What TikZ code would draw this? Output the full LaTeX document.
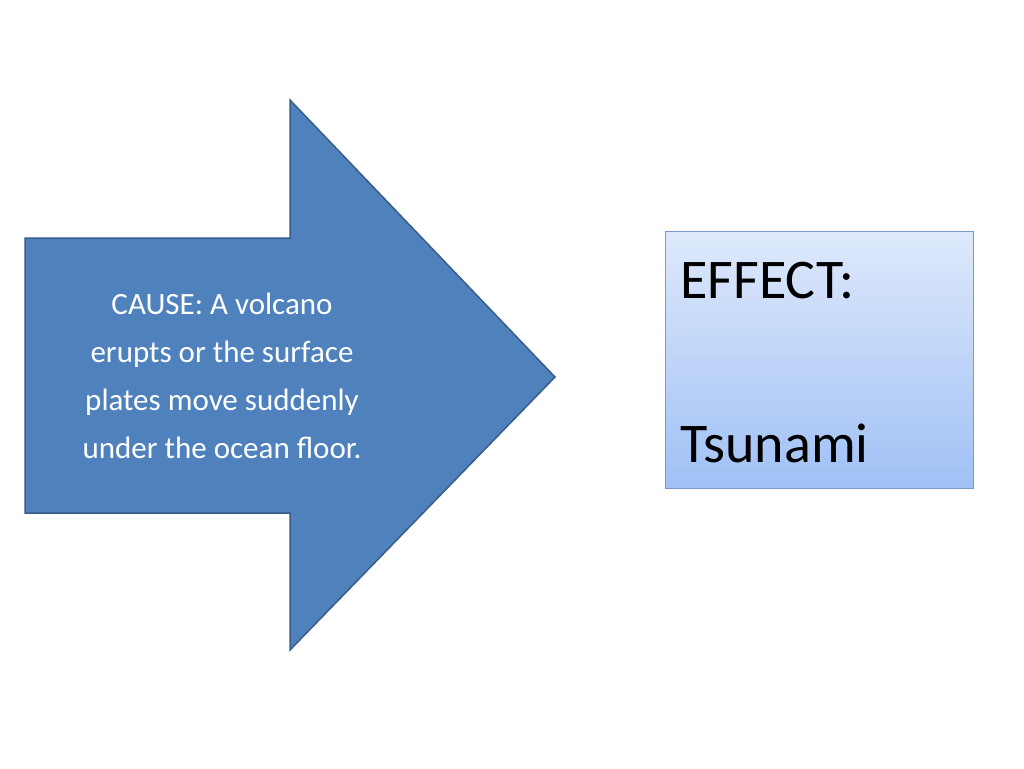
\documentclass[tikz,border=0pt]{standalone}
\usepackage{fontspec}
\setmainfont{Carlito}
\begin{document}
\begin{tikzpicture}[x=1pt,y=-1pt,
  arrowshape/.style={fill={rgb,255:red,79;green,129;blue,189},draw={rgb,255:red,56;green,93;blue,138},line width=1.5pt,line join=miter},
  effbox/.style={draw={rgb,255:red,120;green,155;blue,205},line width=0.8pt,top color={rgb,255:red,222;green,233;blue,251},bottom color={rgb,255:red,160;green,192;blue,245}}]
\useasboundingbox (0,0) rectangle (1024,768);
\draw[arrowshape] (25,238) -- (290,238) -- (290,100) -- (555,377) -- (290,650) -- (290,513) -- (25,513) -- cycle;
\node[text=white,align=center,font=\fontsize{31}{48}\selectfont] (cause) at (222,376) {CAUSE: A volcano\\erupts or the surface\\plates move suddenly\\under the ocean floor.};
\node[effbox,minimum width=308pt,minimum height=257pt,anchor=north west] (box) at (665,231) {};
\node[anchor=base west,font=\fontsize{56}{60}\selectfont] (e) at (677,298) {EFFECT:};
\node[anchor=base west,font=\fontsize{56}{60}\selectfont] (t) at (677,462) {Tsunami};
\end{tikzpicture}
\end{document}
